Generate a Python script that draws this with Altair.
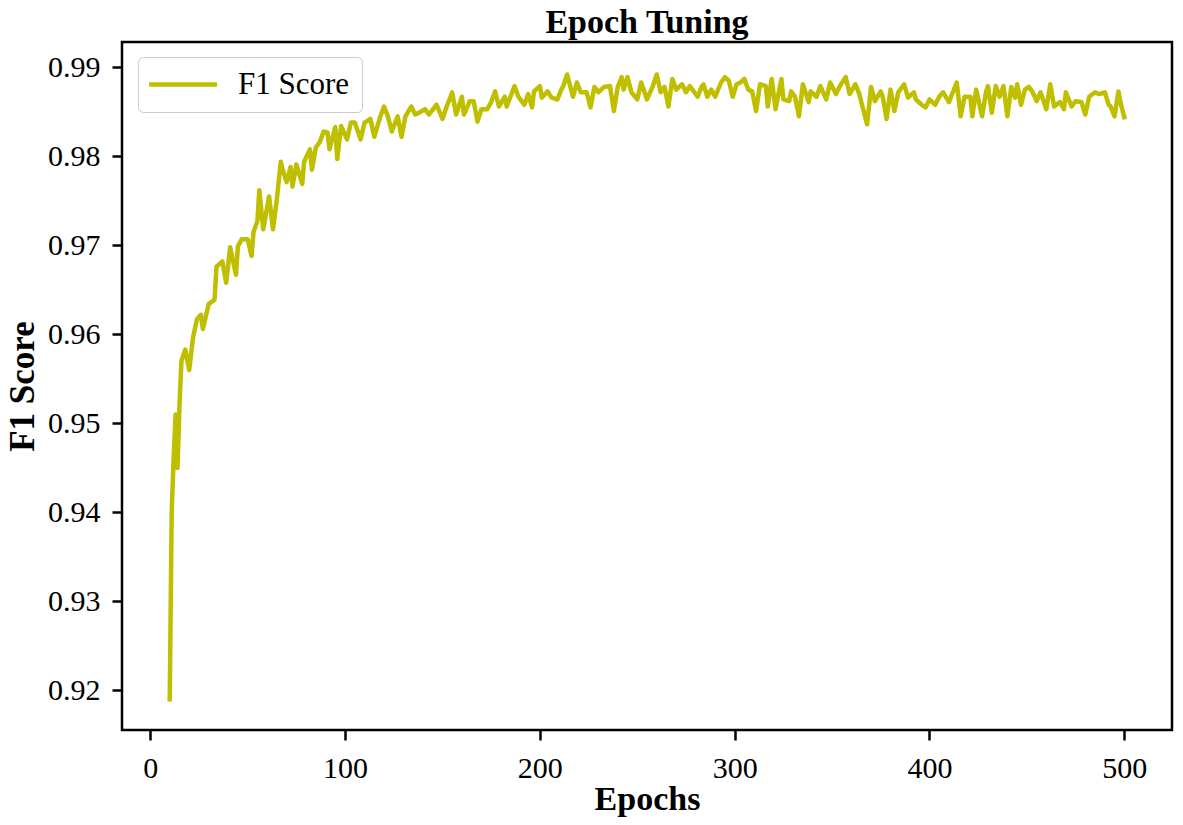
import altair as alt
import pandas as pd

epochs = [10, 11, 12, 13, 14, 15, 16, 18, 20, 22,
          24, 26, 27, 30, 33, 34, 37, 39, 41, 44,
          45, 47, 50, 52, 53, 55, 56, 58, 61, 63,
          65, 67, 68, 70, 72, 73, 75, 78, 79, 82,
          83, 85, 87, 89, 91, 92, 95, 96, 98, 101,
          103, 105, 108, 110, 113, 115, 118, 120, 122, 124,
          127, 129, 131, 134, 136, 138, 141, 143, 147, 150,
          152, 154, 155, 157, 160, 161, 164, 166, 168, 170,
          173, 175, 177, 179, 182, 183, 187, 189, 192, 194,
          196, 197, 200, 201, 204, 206, 209, 211, 212, 214,
          217, 219, 221, 224, 226, 228, 230, 233, 236, 238,
          240, 242, 243, 245, 247, 250, 252, 255, 258, 260,
          262, 264, 266, 268, 270, 273, 275, 277, 279, 281,
          283, 284, 286, 288, 290, 293, 295, 297, 299, 301,
          303, 305, 307, 309, 311, 313, 316, 317, 319, 321,
          324, 325, 328, 329, 331, 333, 335, 338, 339, 342,
          344, 347, 349, 352, 354, 357, 359, 362, 364, 365,
          368, 370, 372, 375, 376, 378, 380, 382, 384, 387,
          389, 392, 393, 396, 398, 400, 403, 405, 407, 410,
          412, 414, 416, 418, 421, 422, 424, 427, 429, 430,
          432, 434, 436, 438, 440, 442, 444, 445, 447, 449,
          451, 453, 455, 457, 460, 462, 464, 467, 469, 470,
          473, 475, 478, 480, 482, 485, 487, 490, 492, 493,
          495, 497, 498, 500]

f1 = [0.919, 0.940, 0.946, 0.951, 0.945, 0.952, 0.957, 0.9583, 0.956, 0.9597,
      0.9617, 0.9622, 0.9606, 0.9634, 0.9639, 0.9676, 0.9682, 0.9658, 0.9698, 0.9667,
      0.9699, 0.9707, 0.9707, 0.9688, 0.9715, 0.9727, 0.9762, 0.9718, 0.9755, 0.9718,
      0.9752, 0.9794, 0.9785, 0.9771, 0.9788, 0.9766, 0.9791, 0.9769, 0.9794, 0.9808,
      0.9785, 0.9810, 0.9816, 0.9828, 0.9827, 0.9808, 0.9833, 0.9797, 0.9834, 0.9819,
      0.9838, 0.9838, 0.9819, 0.9838, 0.9842, 0.9822, 0.9844, 0.9856, 0.9845, 0.9828,
      0.9845, 0.9822, 0.9845, 0.9856, 0.9847, 0.9849, 0.9853, 0.9847, 0.9858, 0.9842,
      0.9855, 0.9866, 0.9872, 0.9847, 0.9867, 0.9847, 0.9862, 0.9862, 0.9839, 0.9853,
      0.9853, 0.9861, 0.9873, 0.9856, 0.9867, 0.9856, 0.9879, 0.9867, 0.9858, 0.9870,
      0.9855, 0.9873, 0.9879, 0.9866, 0.9873, 0.9866, 0.9864, 0.9875, 0.9879, 0.9892,
      0.9867, 0.9883, 0.9872, 0.9872, 0.9855, 0.9878, 0.9872, 0.9878, 0.9879, 0.9851,
      0.9878, 0.9889, 0.9875, 0.9889, 0.9872, 0.9864, 0.9883, 0.9864, 0.9879, 0.9892,
      0.9872, 0.9878, 0.9856, 0.9887, 0.9875, 0.9881, 0.9872, 0.9879, 0.9873, 0.9867,
      0.9878, 0.9881, 0.9867, 0.9875, 0.9867, 0.9883, 0.9889, 0.9885, 0.9867, 0.9881,
      0.9883, 0.9887, 0.9875, 0.9873, 0.9851, 0.9881, 0.9879, 0.9856, 0.9887, 0.9853,
      0.9887, 0.9864, 0.9862, 0.9873, 0.9867, 0.9845, 0.9881, 0.9861, 0.9873, 0.9867,
      0.9879, 0.9864, 0.9883, 0.9870, 0.9879, 0.9889, 0.9870, 0.9881, 0.9870, 0.9861,
      0.9836, 0.9878, 0.9862, 0.9873, 0.9867, 0.9842, 0.9875, 0.9851, 0.9872, 0.9881,
      0.9866, 0.9872, 0.9864, 0.9858, 0.9855, 0.9864, 0.9858, 0.9867, 0.9872, 0.9861,
      0.9872, 0.9883, 0.9845, 0.9867, 0.9867, 0.9845, 0.9875, 0.9845, 0.9872, 0.9879,
      0.9849, 0.9879, 0.9867, 0.9879, 0.9845, 0.9878, 0.9866, 0.9881, 0.9858, 0.9875,
      0.9878, 0.9872, 0.9862, 0.9872, 0.9853, 0.9881, 0.9856, 0.9861, 0.9853, 0.9872,
      0.9856, 0.9862, 0.9861, 0.9847, 0.9867, 0.9872, 0.9870, 0.9872, 0.9858, 0.9856,
      0.9845, 0.9873, 0.9861, 0.9844]

series_name = "F1 Score"
x_ticks = [0, 100, 200, 300, 400, 500]
y_ticks = [0.92, 0.93, 0.94, 0.95, 0.96, 0.97, 0.98, 0.99]

n = min(len(epochs), len(f1))
df = pd.DataFrame({"Epochs": epochs[:n], "F1": f1[:n], "series": [series_name] * n})

FONT = "Liberation Serif"

chart = (
    alt.Chart(df)
    .mark_line(strokeWidth=4.5, strokeJoin="round", strokeCap="square")
    .encode(
        x=alt.X(
            "Epochs:Q",
            scale=alt.Scale(domain=[-14.5, 524.5], nice=False, zero=False),
            axis=alt.Axis(values=x_ticks, format="d", title="Epochs",
                          labelPadding=13, titlePadding=-1, titleFontSize=34),
        ),
        y=alt.Y(
            "F1:Q",
            scale=alt.Scale(domain=[0.91555, 0.99285], nice=False, zero=False),
            axis=alt.Axis(values=y_ticks, format=".2f", title="F1 Score",
                          labelPadding=12, titlePadding=7, titleFontSize=35),
        ),
        color=alt.Color(
            "series:N",
            scale=alt.Scale(range=["#bfbf00"]),
            legend=alt.Legend(
                title=None,
                orient="none",
                legendX=16,
                legendY=15,
                padding=12,
                cornerRadius=5,
                strokeColor="#cccccc",
                fillColor="white",
                symbolType="M-1.45,0H4.55",
                symbolSize=514,
                symbolStrokeWidth=4.5,
                labelOffset=57,
                labelFont=FONT,
                labelFontSize=31,
                labelColor="black",
            ),
        ),
    )
    .properties(
        width=1050,
        height=688,
        autosize=alt.AutoSizeParams(type="none"),
        padding={"left": 114, "top": 34, "right": 3, "bottom": 87},
        title=alt.Title(
            "Epoch Tuning",
            font=FONT,
            fontSize=34,
            fontWeight="bold",
            color="black",
            anchor="middle",
            frame="group",
            baseline="bottom",
            offset=10,
            dy=42,
        ),
    )
    .configure_view(stroke="black", strokeWidth=2.5)
    .configure_axis(
        domain=False,
        grid=False,
        ticks=True,
        tickColor="black",
        tickWidth=2.5,
        tickSize=10,
        labelFont=FONT,
        labelFontSize=30,
        labelColor="black",
        titleFont=FONT,
        titleFontWeight="bold",
        titleColor="black",
    )
)

chart.save("out.html", embed_options={"renderer": "svg", "actions": False})
